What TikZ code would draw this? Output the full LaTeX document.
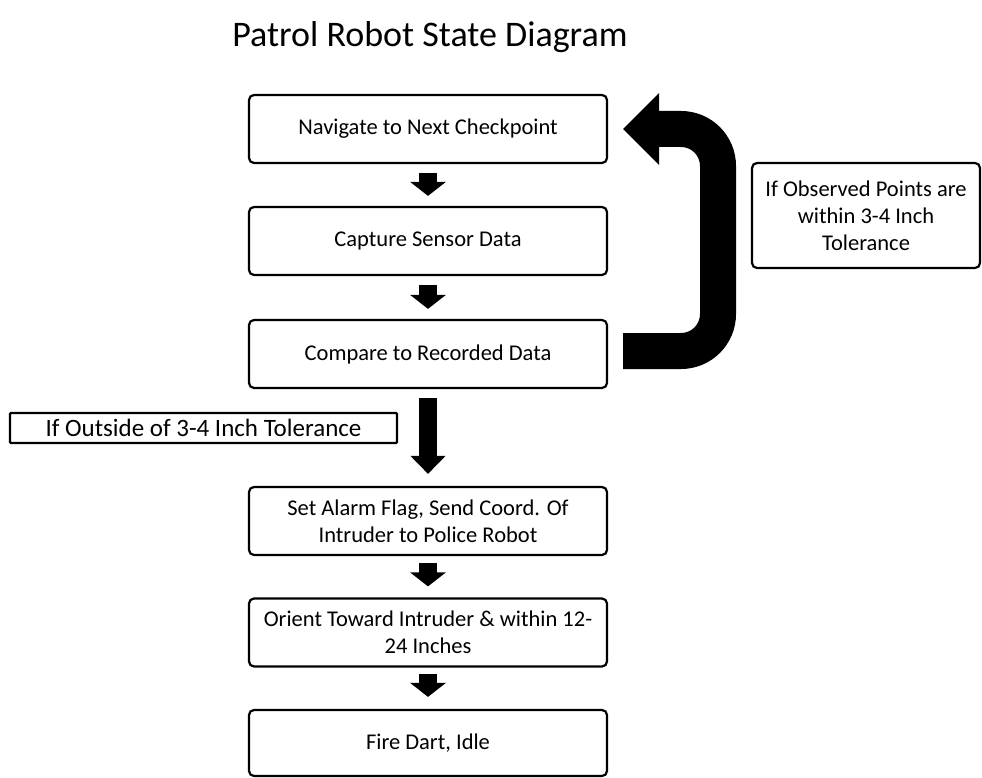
\documentclass[tikz,border=0pt]{standalone}
\usepackage{fontspec}
\setmainfont{Carlito}
\usetikzlibrary{arrows.meta}
\tikzset{
  statebox/.style={draw=black, line width=2.2pt, rounded corners=5pt, minimum width=358pt, minimum height=68pt, align=center, inner sep=2pt, font=\fontsize{22.5}{27}\selectfont},
  notebox/.style={draw=black, line width=2.2pt, rounded corners=5pt, align=center, inner sep=2pt, font=\fontsize{22.5}{27}\selectfont},
  smallarrow/.style={line width=18pt, -{Triangle[width=35pt, length=14pt]}},
  bigarrow/.style={line width=18pt, -{Triangle[width=34pt, length=18pt]}},
  looparrow/.style={line width=36pt, rounded corners=37pt, -{Triangle[width=70pt, length=36pt]}}
}
\begin{document}
\begin{tikzpicture}[x=1pt, y=-1pt]
\useasboundingbox (0,0) rectangle (982,778);
\node[font=\fontsize{36}{42}\selectfont, anchor=base] (title) at (430,47) {Patrol Robot State Diagram};

\node[statebox] (b1) at (428,129) {Navigate to Next Checkpoint};
\node[statebox] (b2) at (428,241) {Capture Sensor Data};
\node[statebox] (b3) at (428,354) {Compare to Recorded Data};
\node[statebox] (b4) at (428,521) {Set Alarm Flag, Send Coord. Of\\Intruder to Police Robot};
\node[statebox] (b5) at (428,632.5) {Orient Toward Intruder \& within 12-\\24 Inches};
\node[statebox, minimum height=66pt] (b6) at (428,743) {Fire Dart, Idle};

\node[notebox, minimum width=228pt, minimum height=105pt] (rnote) at (866,215.5) {If Observed Points are\\within 3-4 Inch\\Tolerance};
\node[notebox, rounded corners=1pt, minimum width=387pt, minimum height=30pt, font=\fontsize{25}{30}\selectfont] (lnote) at (203.5,428) {If Outside of 3-4 Inch Tolerance};

\draw[smallarrow] ([yshift=-9pt]b1.south) -- ([yshift=10pt]b2.north);
\draw[smallarrow] ([yshift=-9pt]b2.south) -- ([yshift=10pt]b3.north);
\draw[bigarrow] ([yshift=-9pt]b3.south) -- ([yshift=12pt]b4.north);
\draw[smallarrow] ([yshift=-7pt]b4.south) -- ([yshift=11pt]b5.north);
\draw[smallarrow] ([yshift=-6pt]b5.south) -- ([yshift=12pt]b6.north);

\coordinate (ls) at ([xshift=15pt, yshift=3pt]b3.east);
\coordinate (le) at ([xshift=15pt]b1.east);
\draw[looparrow] (ls) -- (ls -| 718,0) -- (le -| 718,0) -- (le);
\end{tikzpicture}
\end{document}
